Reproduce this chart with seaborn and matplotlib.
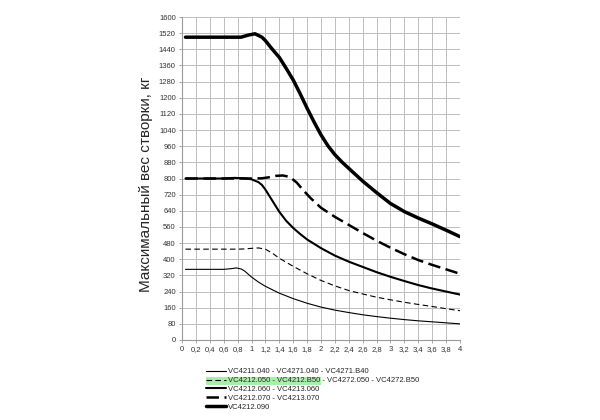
import matplotlib
matplotlib.use("Agg")
import matplotlib.pyplot as plt
import pandas as pd
import seaborn as sns
import numpy as np
from matplotlib.lines import Line2D
from matplotlib.patches import Rectangle

# data (width, m -> max weight, kg)
x_040 = [0.05, 0.6, 0.7, 0.78, 0.85, 0.9, 1.0, 1.1, 1.2, 1.4, 1.6, 1.8, 2.0, 2.2, 2.4, 2.6, 2.8, 3.0, 3.2, 3.4, 3.6, 3.8, 4.0]
y_040 = [350, 350, 353, 357, 352, 342, 312, 287, 266, 232, 205, 182, 163, 148, 136, 125, 116, 108, 101, 95, 90, 85, 80]

x_050 = [0.05, 0.8, 0.9, 1.0, 1.1, 1.2, 1.3, 1.4, 1.6, 1.8, 2.0, 2.2, 2.4, 2.6, 2.8, 3.0, 3.2, 3.4, 3.6, 3.8, 4.0]
y_050 = [450, 450, 451, 454, 456, 450, 430, 405, 365, 328, 295, 268, 245, 228, 212, 199, 187, 176, 166, 155, 145]

x_060 = [0.05, 0.6, 0.75, 0.9, 1.0, 1.1, 1.15, 1.2, 1.3, 1.4, 1.5, 1.6, 1.7, 1.8, 2.0, 2.2, 2.4, 2.6, 2.8, 3.0, 3.2, 3.4, 3.6, 3.8, 4.0]
y_060 = [800, 800, 803, 801, 796, 782, 768, 745, 690, 635, 590, 555, 525, 498, 455, 418, 388, 362, 336, 313, 292, 272, 255, 240, 225]

x_070 = [0.05, 1.0, 1.15, 1.25, 1.35, 1.45, 1.55, 1.65, 1.75, 1.85, 2.0, 2.2, 2.4, 2.6, 2.8, 3.0, 3.2, 3.4, 3.6, 3.8, 4.0]
y_070 = [800, 800, 801, 806, 813, 815, 808, 780, 740, 703, 655, 610, 570, 530, 492, 457, 425, 396, 372, 350, 328]

x_090 = [0.05, 0.85, 0.95, 1.05, 1.15, 1.2, 1.3, 1.4, 1.5, 1.6, 1.7, 1.8, 1.9, 2.0, 2.1, 2.2, 2.3, 2.4, 2.6, 2.8, 3.0, 3.2, 3.4, 3.6, 3.8, 4.0]
y_090 = [1500, 1500, 1510, 1517, 1500, 1483, 1440, 1400, 1345, 1288, 1220, 1148, 1080, 1016, 962, 918, 882, 850, 787, 730, 676, 636, 604, 575, 544, 512]

labels = ['VC4211.040 - VC4271.040 - VC4271.B40',
          'VC4212.050 - VC4212.B50 - VC4272.050 - VC4272.B50',
          'VC4212.060 - VC4213.060',
          'VC4212.070 - VC4213.070',
          'VC4212.090']
highlighted = 'VC4212.050 - VC4212.B50'

x_ticks = np.arange(0, 4.01, 0.2)
y_ticks = np.arange(0, 1601, 80)

sns.set_style("white")
plt.rcParams['font.family'] = ['Liberation Sans', 'DejaVu Sans']

fig = plt.figure(figsize=(6, 4.2), dpi=100)
ax = fig.add_axes([182/600, 80/420, 278/600, 323/420])

styles = [
    dict(lw=0.8, ls='-'),
    dict(lw=0.8, ls=(0, (5, 3))),
    dict(lw=1.5, ls='-'),
    dict(lw=1.8, ls=(0, (5, 2.2))),
    dict(lw=2.5, ls='-'),
]
series = [(x_040, y_040), (x_050, y_050), (x_060, y_060), (x_070, y_070), (x_090, y_090)]

for (xs, ys), st, lab in zip(series, styles, labels):
    df = pd.DataFrame({'x': xs, 'y': ys})
    sns.lineplot(data=df, x='x', y='y', ax=ax, color='black', linewidth=st['lw'],
                 linestyle=st['ls'], sort=False, label=lab, legend=False)

ax.set_xlim(0, 4)
ax.set_ylim(0, 1600)
ax.set_xticks(x_ticks)
ax.set_yticks(y_ticks)
ax.set_xticklabels([('%g' % round(v, 1)).replace('.', ',') for v in x_ticks])
ax.set_yticklabels(['%d' % v for v in y_ticks])
ax.tick_params(labelsize=5.5, colors='#333333', length=2.5, width=0.6, pad=2,
               direction='out', bottom=True, left=True, color='#999999')
ax.grid(True, color='#bdbdbd', linewidth=0.7)
for s in ax.spines.values():
    s.set_visible(False)
ax.spines['left'].set_visible(True)
ax.spines['bottom'].set_visible(True)
ax.spines['left'].set_color('#999999')
ax.spines['bottom'].set_color('#999999')
ax.set_xlabel('')
ax.set_ylabel('Максимальный вес створки, кг', fontsize=11)
ax.yaxis.set_label_coords(-0.104, 0.483)

handles = [Line2D([], [], color='black', linewidth=st['lw'], linestyle=st['ls']) for st in styles]
leg = fig.legend(handles, labels, loc='upper left', bbox_to_anchor=(206/600, 1 - 368/420),
                 frameon=False, fontsize=5.5, handlelength=2.6, handletextpad=0.25,
                 labelspacing=0.2, borderpad=0, borderaxespad=0)

# green highlight behind the first part of the second legend row
fig.canvas.draw()
r = fig.canvas.get_renderer()
tb = leg.get_texts()[1].get_window_extent(r)
tmp = fig.text(0, 0, highlighted, fontsize=5.5)
w = tmp.get_window_extent(r).width
tmp.remove()
x0 = 206
fig.patches.append(Rectangle((x0/600, (tb.y0 - 0.5)/420), (tb.x0 + w + 1 - x0)/600, (tb.height + 1)/420,
                             transform=fig.transFigure, facecolor='#a8eea8', edgecolor='none', zorder=1))

fig.savefig('out.png', dpi=100)
